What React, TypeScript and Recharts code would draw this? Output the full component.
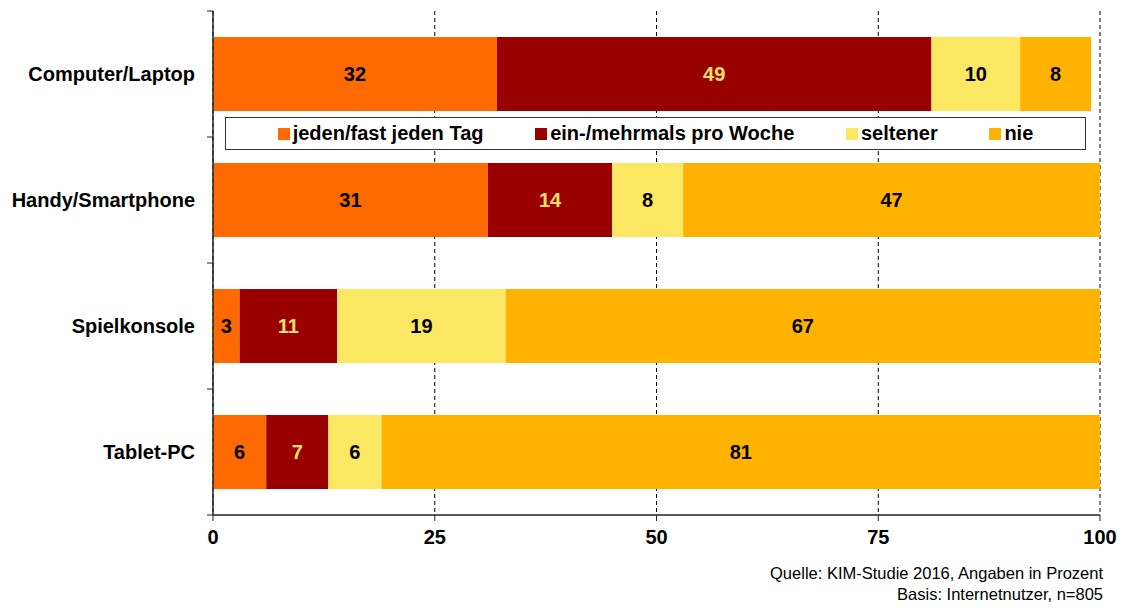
import { Bar, BarChart, CartesianGrid, LabelList, Legend, XAxis, YAxis } from "recharts";

const CATEGORIES = ["Computer/Laptop", "Handy/Smartphone", "Spielkonsole", "Tablet-PC"];
const DAILY = [32, 31, 3, 6];
const WEEKLY = [49, 14, 11, 7];
const RARELY = [10, 8, 19, 6];
const NEVER = [8, 47, 67, 81];
const X_TICKS = [0, 25, 50, 75, 100];

const SERIES = [
  { key: "daily", name: "jeden/fast jeden Tag", color: "#ff6a00", label: "#000000" },
  { key: "weekly", name: "ein-/mehrmals pro Woche", color: "#990000", label: "#ffe066" },
  { key: "rarely", name: "seltener", color: "#fbe762", label: "#000000" },
  { key: "never", name: "nie", color: "#ffb300", label: "#000000" },
];

const FONT = '"Liberation Sans", Arial, sans-serif';
const LABEL_GAP = 18;

const data = CATEGORIES.map((name, i) => ({
  name,
  daily: DAILY[i],
  weekly: WEEKLY[i],
  rarely: RARELY[i],
  never: NEVER[i],
}));

// category label plus little tick marks on the band edges
function CategoryTick(props: any) {
  const { x, y, payload, index, visibleTicksCount } = props;
  const half = payload.offset || 0;
  const axisX = x + LABEL_GAP;
  const isLast = index === visibleTicksCount - 1;
  return (
    <g>
      <line x1={axisX - 6} x2={axisX} y1={y - half} y2={y - half} stroke="#222" />
      {isLast && <line x1={axisX - 6} x2={axisX} y1={y + half} y2={y + half} stroke="#222" />}
      <text
        x={x}
        y={y}
        dy="0.35em"
        textAnchor="end"
        fill="#000"
        fontSize={20}
        fontWeight="bold"
        fontFamily={FONT}
      >
        {payload.value}
      </text>
    </g>
  );
}

function LegendBox() {
  return (
    <div
      style={{
        boxSizing: "border-box",
        width: "100%",
        height: "100%",
        border: "1.5px solid #333",
        background: "#fff",
        display: "flex",
        alignItems: "center",
        justifyContent: "space-evenly",
        fontFamily: FONT,
        fontWeight: "bold",
        fontSize: 20,
        color: "#000",
      }}
    >
      {SERIES.map((s) => (
        <span key={s.key} style={{ display: "flex", alignItems: "center" }}>
          <span style={{ width: 12, height: 12, background: s.color, marginRight: 3 }} />
          {s.name}
        </span>
      ))}
    </div>
  );
}

export default function App() {
  return (
    <div style={{ position: "absolute", left: 0, top: 0, width: 1122, height: 608, background: "#fff" }}>
      <BarChart
        width={1122}
        height={608}
        data={data}
        layout="vertical"
        margin={{ top: 11, right: 22, bottom: 53, left: 0 }}
        barCategoryGap="20.6%"
      >
        <CartesianGrid horizontal={false} stroke="#000" strokeDasharray="4 3" />
        <YAxis
          type="category"
          dataKey="name"
          width={213}
          tickLine={false}
          tickSize={0}
          tickMargin={LABEL_GAP}
          axisLine={{ stroke: "#222", strokeWidth: 1.5 }}
          tick={<CategoryTick />}
        />
        <XAxis
          type="number"
          domain={[0, 100]}
          ticks={X_TICKS}
          height={40}
          tickSize={6}
          tickMargin={9}
          axisLine={{ stroke: "#222", strokeWidth: 1.5 }}
          tickLine={{ stroke: "#222" }}
          tick={{ fill: "#000", fontSize: 20, fontWeight: "bold", fontFamily: FONT }}
        />
        {SERIES.map((s) => (
          <Bar
            key={s.key}
            dataKey={s.key}
            name={s.name}
            stackId="a"
            fill={s.color}
            isAnimationActive={false}
          >
            <LabelList
              dataKey={s.key}
              position="center"
              fill={s.label}
              style={{ fontSize: 20, fontWeight: "bold", fontFamily: FONT }}
            />
          </Bar>
        ))}
        <Legend
          verticalAlign="middle"
          align="center"
          content={() => <LegendBox />}
          wrapperStyle={{ left: 225, top: 117, width: 861, height: 33 }}
        />
      </BarChart>
      <div
        style={{
          position: "absolute",
          right: 19,
          top: 563,
          textAlign: "right",
          fontFamily: FONT,
          fontSize: 16.5,
          lineHeight: "21px",
          color: "#000",
        }}
      >
        <div>Quelle: KIM-Studie 2016, Angaben in Prozent</div>
        <div>Basis: Internetnutzer, n=805</div>
      </div>
    </div>
  );
}
